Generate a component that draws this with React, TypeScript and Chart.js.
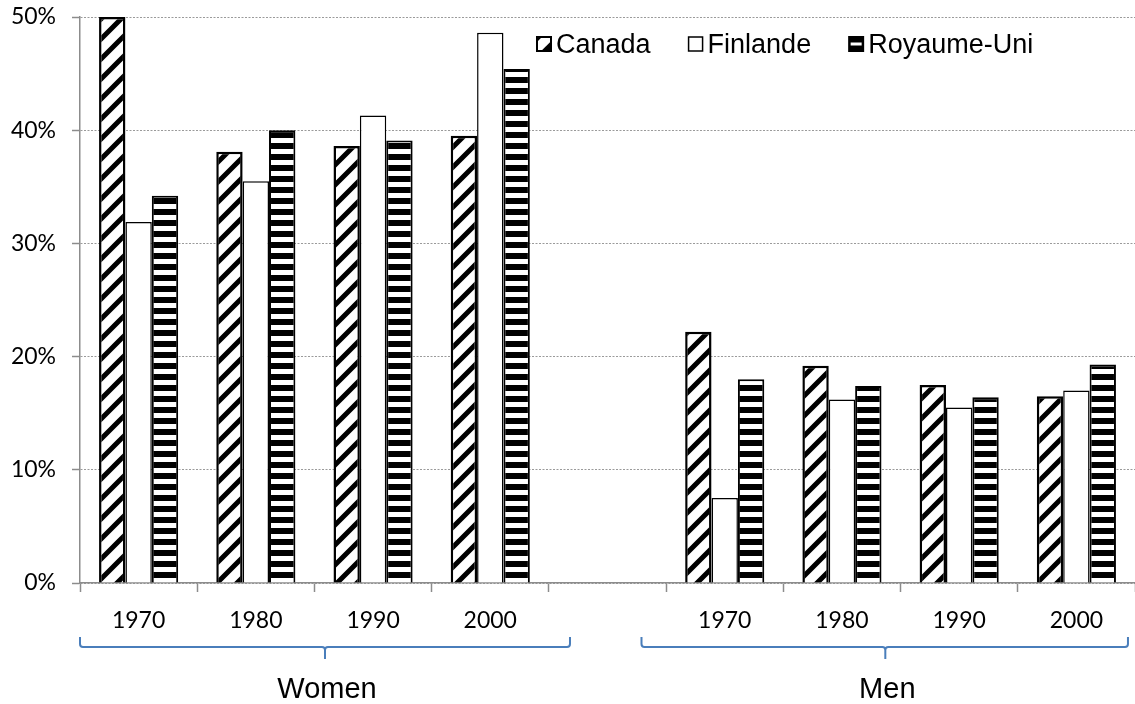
import React, { useEffect, useRef } from 'react';
import { Chart, registerables } from 'chart.js';

Chart.register(...registerables);

const categories = ['1970', '1980', '1990', '2000', '', '1970', '1980', '1990', '2000'];
const seriesNames = ['Canada', 'Finlande', 'Royaume-Uni'];
const canada = [50, 38.1, 38.6, 39.5, null, 22.2, 19.2, 17.5, 16.5];
const finlande = [31.9, 35.5, 41.3, 48.6, null, 7.5, 16.2, 15.5, 17.0];
const royaumeUni = [34.2, 40.0, 39.1, 45.4, null, 18.0, 17.4, 16.4, 19.3];
const groups = ['Women', 'Men'];
// brace spans in category-index units: [start, end, centre]
const groupSpans = [
  [-0.5, 3.68, 1.59],
  [4.29, 8.44, 6.37],
];

function diagPattern(ctx: CanvasRenderingContext2D) {
  const s = 20;
  const c = document.createElement('canvas');
  c.width = s;
  c.height = s;
  const g = c.getContext('2d')!;
  g.fillStyle = '#fff';
  g.fillRect(0, 0, s, s);
  g.strokeStyle = '#000';
  g.lineWidth = 5;
  g.beginPath();
  for (const o of [-s, 0, s]) {
    g.moveTo(o - 3, s + 3);
    g.lineTo(o + s + 3, -3);
  }
  g.stroke();
  return ctx.createPattern(c, 'repeat')!;
}

function horizPattern(ctx: CanvasRenderingContext2D) {
  const s = 11;
  const c = document.createElement('canvas');
  c.width = s;
  c.height = s;
  const g = c.getContext('2d')!;
  g.fillStyle = '#fff';
  g.fillRect(0, 0, s, s);
  g.fillStyle = '#000';
  g.fillRect(0, 0, s, 6);
  return ctx.createPattern(c, 'repeat')!;
}

function drawSwatch(ctx: CanvasRenderingContext2D, i: number, x: number, y: number, s: number) {
  ctx.save();
  if (i === 0) {
    ctx.fillStyle = '#fff';
    ctx.fillRect(x, y, s, s);
    ctx.fillStyle = '#000';
    ctx.beginPath();
    ctx.moveTo(x + s, y + s * 0.3);
    ctx.lineTo(x + s, y + s);
    ctx.lineTo(x + s * 0.3, y + s);
    ctx.closePath();
    ctx.fill();
    ctx.beginPath();
    ctx.moveTo(x, y);
    ctx.lineTo(x + s * 0.35, y);
    ctx.lineTo(x, y + s * 0.35);
    ctx.closePath();
    ctx.fill();
    ctx.strokeStyle = '#000';
    ctx.lineWidth = 2;
    ctx.strokeRect(x, y, s, s);
  } else if (i === 1) {
    ctx.fillStyle = '#fff';
    ctx.fillRect(x, y, s, s);
    ctx.strokeStyle = '#000';
    ctx.lineWidth = 1.5;
    ctx.strokeRect(x, y, s, s);
  } else {
    ctx.fillStyle = '#000';
    ctx.fillRect(x - 1, y - 1, s + 2, s + 2);
    ctx.fillStyle = '#fff';
    ctx.fillRect(x + 1.5, y + s / 2 - 1.5, s - 3, 3);
  }
  ctx.restore();
}

const decorPlugin = {
  id: 'decor',
  afterDraw(chart: any) {
    const { ctx } = chart;
    const xs = chart.scales.x;
    ctx.save();
    // legend
    ctx.font = '27px "Liberation Sans", Arial, sans-serif';
    ctx.textBaseline = 'alphabetic';
    ctx.textAlign = 'left';
    let lx = 537;
    const ly = 53;
    const sw = 14;
    seriesNames.forEach((name, i) => {
      drawSwatch(ctx, i, lx, ly - 16, sw);
      ctx.fillStyle = '#000';
      ctx.fillText(name, lx + sw + 5, ly);
      lx += sw + 5 + ctx.measureText(name).width + 38;
    });
    // braces and group labels
    ctx.strokeStyle = '#4A7EBB';
    ctx.lineWidth = 2;
    groupSpans.forEach((span, gi) => {
      const a = xs.getPixelForValue(span[0]);
      const b = xs.getPixelForValue(span[1]);
      const c = xs.getPixelForValue(span[2]);
      const yl = 647;
      ctx.beginPath();
      ctx.moveTo(a, 637);
      ctx.lineTo(a, yl - 3);
      ctx.quadraticCurveTo(a, yl, a + 3, yl);
      ctx.lineTo(c - 3, yl);
      ctx.quadraticCurveTo(c, yl, c, yl + 3);
      ctx.lineTo(c, 659);
      ctx.moveTo(c, yl + 3);
      ctx.quadraticCurveTo(c, yl, c + 3, yl);
      ctx.lineTo(b - 3, yl);
      ctx.quadraticCurveTo(b, yl, b, yl - 3);
      ctx.lineTo(b, 637);
      ctx.stroke();
      ctx.font = '29px "Liberation Sans", Arial, sans-serif';
      ctx.textAlign = 'center';
      ctx.fillStyle = '#000';
      ctx.fillText(groups[gi], c + 2, 698);
    });
    ctx.restore();
  },
};

export default function App() {
  const canvasRef = useRef<HTMLCanvasElement | null>(null);

  useEffect(() => {
    const canvas = canvasRef.current!;
    const ctx = canvas.getContext('2d')!;
    const diag = diagPattern(ctx);
    const horiz = horizPattern(ctx);
    const tickFont = { family: 'Lato, "Noto Sans", sans-serif', size: 23 };
    const axisGray = '#8c8c8c';

    const chart = new Chart(canvas, {
      type: 'bar',
      data: {
        labels: categories,
        datasets: [
          {
            label: seriesNames[0],
            data: canada,
            backgroundColor: diag,
            borderColor: '#000',
            borderWidth: 2.5,
            categoryPercentage: 0.675,
            barPercentage: 1,
          },
          {
            label: seriesNames[1],
            data: finlande,
            backgroundColor: '#fff',
            borderColor: '#000',
            borderWidth: 1.5,
            categoryPercentage: 0.675,
            barPercentage: 1,
          },
          {
            label: seriesNames[2],
            data: royaumeUni,
            backgroundColor: horiz,
            borderColor: '#000',
            borderWidth: 2,
            categoryPercentage: 0.675,
            barPercentage: 1,
          },
        ],
      } as any,
      options: {
        responsive: false,
        animation: false,
        layout: { padding: { top: 17, left: 0, right: 0, bottom: 0 } },
        plugins: {
          legend: { display: false },
          tooltip: { enabled: false },
        },
        scales: {
          x: {
            ticks: {
              font: tickFont,
              color: '#000',
              padding: 15,
              maxRotation: 0,
              autoSkip: false,
            },
            grid: {
              drawOnChartArea: false,
              drawTicks: true,
              tickLength: 9,
              tickColor: axisGray,
              tickWidth: 1.5,
              offset: true,
            },
            border: { color: axisGray, width: 1.5 },
            afterFit: (s: any) => {
              s.height = 121;
              s.paddingLeft = 0;
              s.paddingRight = 0;
            },
          },
          y: {
            min: 0,
            max: 50,
            ticks: {
              stepSize: 10,
              callback: (v: any) => v + '%',
              font: tickFont,
              color: '#000',
              padding: 16,
            },
            grid: {
              color: '#9a9a9a',
              lineWidth: 1,
              tickColor: axisGray,
              tickLength: 8,
              tickWidth: 1.5,
            },
            border: { color: axisGray, width: 1.5, dash: [2, 1.5] },
            afterFit: (s: any) => {
              s.width = 80;
              s.paddingTop = 0;
              s.paddingBottom = 0;
            },
          },
        },
      } as any,
      plugins: [decorPlugin],
    });

    let alive = true;
    if ((document as any).fonts && (document as any).fonts.ready) {
      (document as any).fonts.ready.then(() => {
        if (alive) chart.update();
      });
    }
    return () => {
      alive = false;
      chart.destroy();
    };
  }, []);

  return (
    <div style={{ position: 'absolute', left: 0, top: 0, width: 1135, height: 704, background: '#fff' }}>
      <canvas ref={canvasRef} width={1135} height={704} style={{ display: 'block', width: 1135, height: 704 }} />
    </div>
  );
}
